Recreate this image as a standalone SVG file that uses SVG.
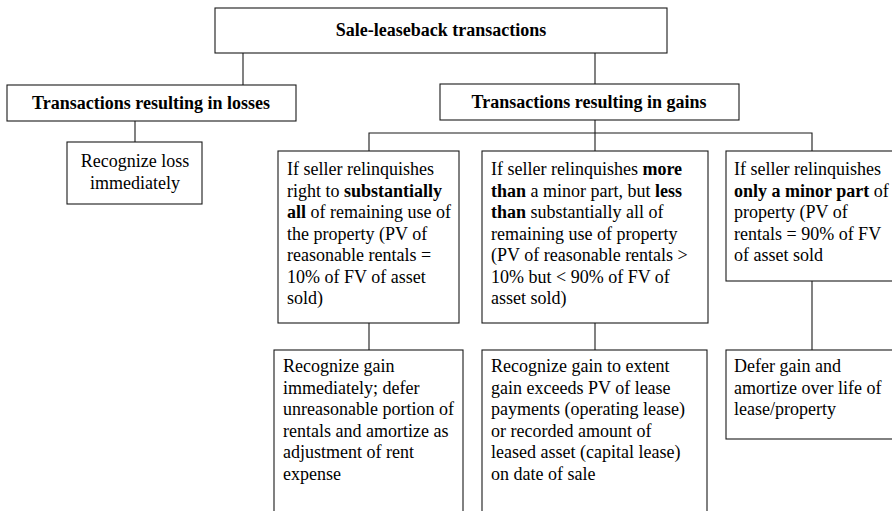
<svg xmlns="http://www.w3.org/2000/svg" width="892" height="511" viewBox="0 0 892 511">
  <style>
    .box { fill: #fff; stroke: #1a1a1a; stroke-width: 1.1; }
    .wire { fill: none; stroke: #1a1a1a; stroke-width: 1.1; }
    text { font-family: "Liberation Serif", "Times New Roman", serif; font-size: 18px; fill: #000; }
    .head { font-weight: bold; text-anchor: middle; }
    .mid { text-anchor: middle; }
    .b { font-weight: bold; }
  </style>
  <rect width="892" height="511" fill="#fff"/>

  <!-- connectors -->
  <g id="connectors">
    <line class="wire" x1="243" y1="53" x2="243" y2="85"/>
    <line class="wire" x1="595" y1="53" x2="595" y2="84"/>
    <line class="wire" x1="135" y1="121" x2="135" y2="142"/>
    <line class="wire" x1="595" y1="120" x2="595" y2="151"/>
    <polyline class="wire" points="369,151 369,133 812,133 812,151"/>
    <line class="wire" x1="369" y1="323" x2="369" y2="350"/>
    <line class="wire" x1="595" y1="323" x2="595" y2="350"/>
    <line class="wire" x1="812" y1="281" x2="812" y2="350"/>
  </g>

  <g id="root">
    <rect class="box" x="215" y="8" width="452" height="45"/>
    <text class="head" x="441" y="36">Sale-leaseback transactions</text>
  </g>

  <g id="losses">
    <rect class="box" x="7" y="85" width="289" height="36"/>
    <text class="head" x="151" y="109">Transactions resulting in losses</text>
  </g>

  <g id="gains">
    <rect class="box" x="440" y="84" width="299" height="36"/>
    <text class="head" x="589" y="108">Transactions resulting in gains</text>
  </g>

  <g id="loss-result">
    <rect class="box" x="67" y="142" width="135" height="62"/>
    <text class="mid" x="135" y="167">Recognize loss</text>
    <text class="mid" x="135" y="189">immediately</text>
  </g>

  <g id="case-all">
    <rect class="box" x="278" y="151" width="181" height="172"/>
    <text x="287" y="175">If seller relinquishes</text>
    <text x="287" y="196.5">right to <tspan class="b">substantially</tspan></text>
    <text x="287" y="218"><tspan class="b">all</tspan> of remaining use of</text>
    <text x="287" y="239.5">the property (PV of</text>
    <text x="287" y="261">reasonable rentals =</text>
    <text x="287" y="282.5">10% of FV of asset</text>
    <text x="287" y="304">sold)</text>
  </g>

  <g id="case-partial">
    <rect class="box" x="482" y="151" width="226" height="172"/>
    <text x="491" y="175">If seller relinquishes <tspan class="b">more</tspan></text>
    <text x="491" y="196.5"><tspan class="b">than</tspan> a minor part, but <tspan class="b">less</tspan></text>
    <text x="491" y="218"><tspan class="b">than</tspan> substantially all of</text>
    <text x="491" y="239.5">remaining use of property</text>
    <text x="491" y="261">(PV of reasonable rentals &gt;</text>
    <text x="491" y="282.5">10% but &lt; 90% of FV of</text>
    <text x="491" y="304">asset sold)</text>
  </g>

  <g id="case-minor">
    <rect class="box" x="726" y="151" width="180" height="130"/>
    <text x="734" y="175">If seller relinquishes</text>
    <text x="734" y="196.5"><tspan class="b">only a minor part</tspan> of</text>
    <text x="734" y="218">property (PV of</text>
    <text x="734" y="239.5">rentals = 90% of FV</text>
    <text x="734" y="261">of asset sold</text>
  </g>

  <g id="result-all">
    <rect class="box" x="274" y="350" width="189" height="180"/>
    <text x="283" y="372">Recognize gain</text>
    <text x="283" y="393.5">immediately; defer</text>
    <text x="283" y="415">unreasonable portion of</text>
    <text x="283" y="436.5">rentals and amortize as</text>
    <text x="283" y="458">adjustment of rent</text>
    <text x="283" y="479.5">expense</text>
  </g>

  <g id="result-partial">
    <rect class="box" x="482" y="350" width="225" height="180"/>
    <text x="491" y="372">Recognize gain to extent</text>
    <text x="491" y="393.5">gain exceeds PV of lease</text>
    <text x="491" y="415">payments (operating lease)</text>
    <text x="491" y="436.5">or recorded amount of</text>
    <text x="491" y="458">leased asset (capital lease)</text>
    <text x="491" y="479.5">on date of sale</text>
  </g>

  <g id="result-minor">
    <rect class="box" x="726" y="350" width="180" height="89"/>
    <text x="734" y="372">Defer gain and</text>
    <text x="734" y="393.5">amortize over life of</text>
    <text x="734" y="415">lease/property</text>
  </g>
</svg>
